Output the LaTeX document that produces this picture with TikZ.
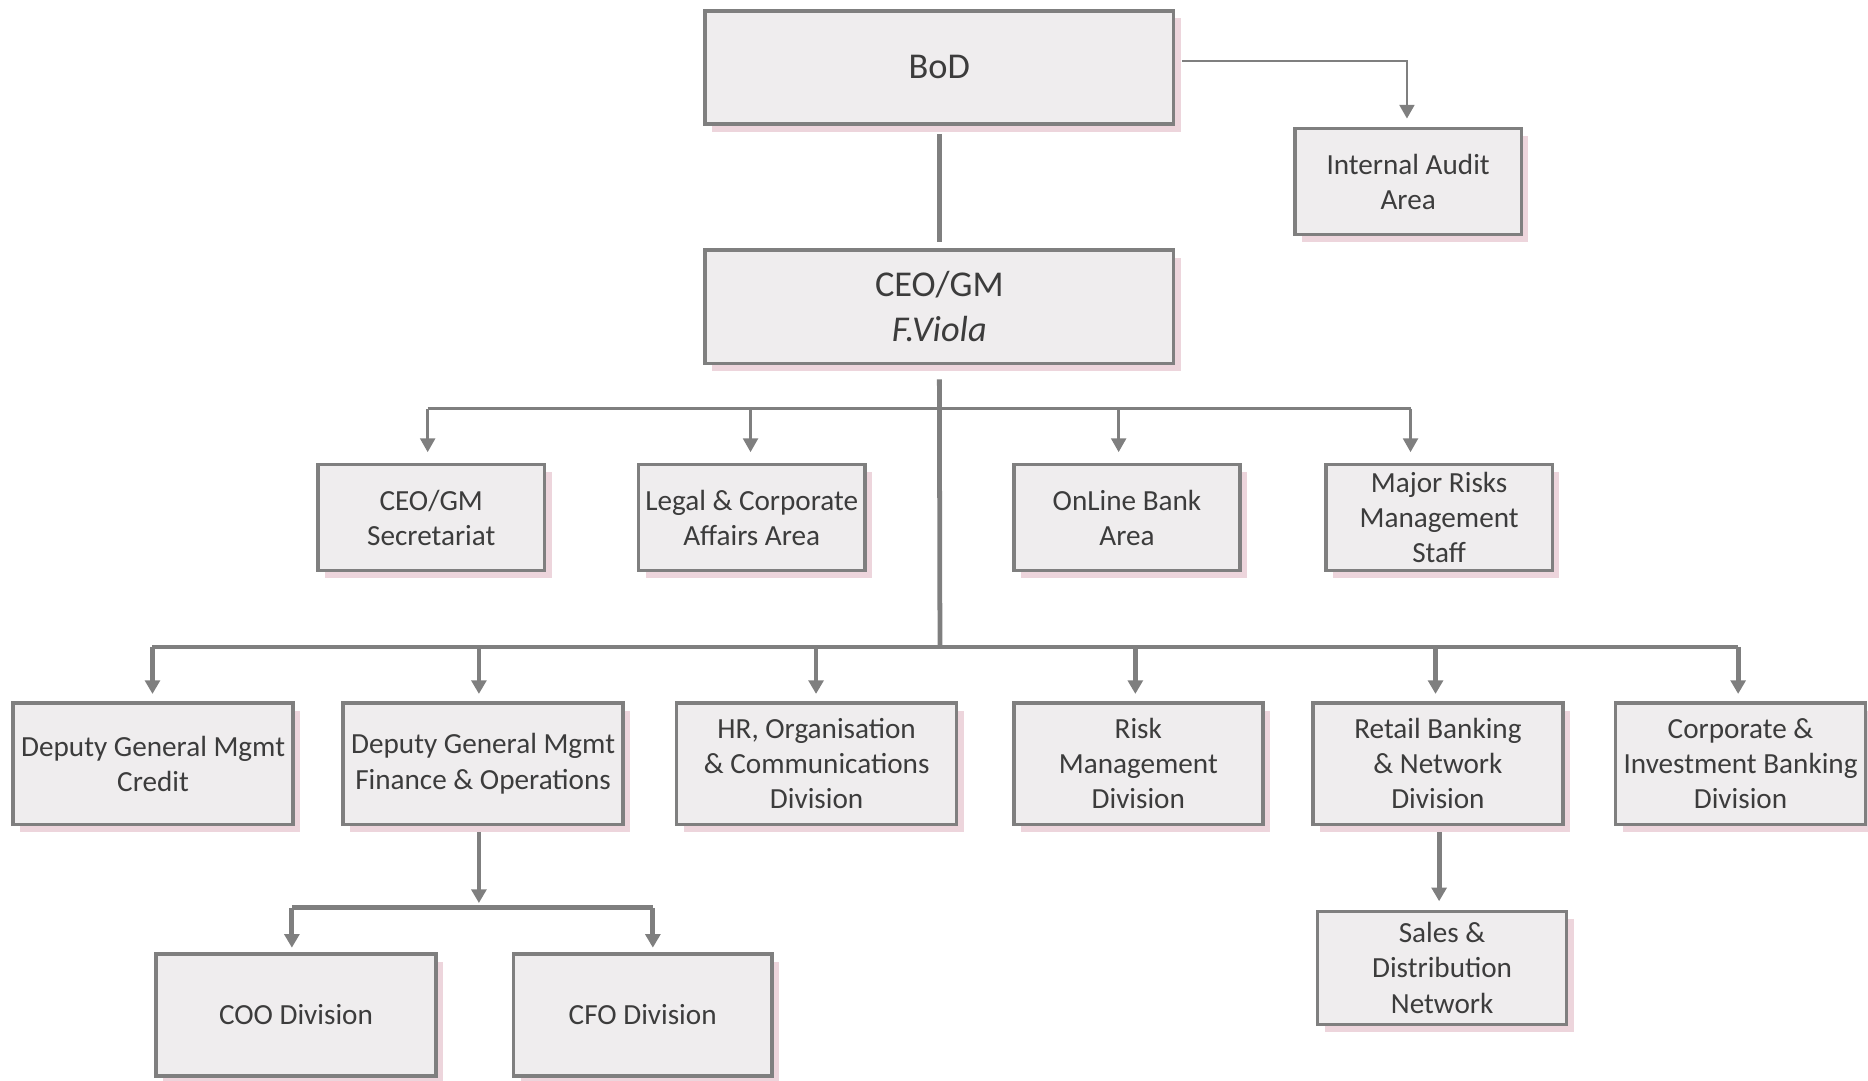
\documentclass[tikz,border=0pt]{standalone}
\usepackage{fontspec}
\setmainfont{Carlito}
\usetikzlibrary{arrows.meta,shadows}
\definecolor{boxfill}{HTML}{EFEDEE}
\definecolor{boxline}{HTML}{7F7F7F}
\definecolor{shad}{HTML}{EDD5DC}
\definecolor{txt}{HTML}{3C3C3C}
\tikzset{
  orgbox/.style={draw=boxline,fill=boxfill,line width=1.2pt,inner sep=0pt,align=center,text=txt,
    font=\fontsize{9.8}{11.8}\selectfont,
    drop shadow={shadow xshift=2.4pt,shadow yshift=-2.6pt,fill=shad,opacity=1}},
  bigbox/.style={orgbox,font=\fontsize{12.2}{15.2}\selectfont},
  thinln/.style={draw=boxline,line width=0.8pt},
  thickln/.style={draw=boxline,line width=1.6pt},
  tip/.style={-{Triangle[width=5pt,length=4.6pt]}},
}
\newcommand\bx[7]{%
  \pgfmathsetmacro\cx{(#3+#5)/2}\pgfmathsetmacro\cy{(#4+#6)/2}%
  \pgfmathsetmacro\ww{(#5-#3)*0.4}\pgfmathsetmacro\hh{(#6-#4)*0.4}%
  \node[#1,minimum width=\ww pt,minimum height=\hh pt] (#2) at (\cx,\cy) {#7};}
\begin{document}
\begin{tikzpicture}[x=0.4pt,y=-0.4pt]
\useasboundingbox (0,0) rectangle (1568,907);
% boxes
\bx{bigbox}{bod}{592}{9}{985}{104}{BoD}
\bx{orgbox}{ia}{1087}{108}{1277}{197}{Internal Audit\\Area}
\bx{bigbox}{ceo}{592}{210}{985}{305}{CEO/GM\\\textit{F.Viola}}
\bx{orgbox}{sec}{267}{390}{457}{479}{CEO/GM\\Secretariat}
\bx{orgbox}{leg}{536}{390}{726}{479}{Legal \& Corporate\\Affairs Area}
\bx{orgbox}{onl}{851}{390}{1041}{479}{OnLine Bank\\Area}
\bx{orgbox}{mrm}{1113}{390}{1303}{479}{Major Risks\\Management\\Staff}
\bx{orgbox}{dgc}{11}{590}{246}{692}{Deputy General Mgmt\\Credit}
\bx{orgbox}{dgf}{288}{590}{523}{692}{Deputy General Mgmt\\Finance \& Operations}
\bx{orgbox}{hr}{568}{590}{803}{692}{HR, Organisation\\\& Communications\\Division}
\bx{orgbox}{risk}{851}{590}{1060}{692}{Risk\\Management\\Division}
\bx{orgbox}{ret}{1102}{590}{1312}{692}{Retail Banking\\\& Network\\Division}
\bx{orgbox}{cib}{1356}{590}{1566}{692}{Corporate \&\\Investment Banking\\Division}
\bx{orgbox}{coo}{131}{801}{366}{903}{COO Division}
\bx{orgbox}{cfo}{431}{801}{648}{903}{CFO Division}
\bx{orgbox}{sal}{1106}{765}{1315}{860}{Sales \&\\Distribution\\Network}
% coordinates
\coordinate (busA) at (789,343);
\coordinate (busB) at (789,543);
\coordinate (busC) at (402,762);
\coordinate (iaT) at (1181,51);
% BoD - CEO
\draw[thickln] ([yshift=-2.8pt]bod.south) -- ([yshift=2pt]ceo.north);
% BoD - Internal Audit
\draw[thinln,tip,shorten <=2.4pt,shorten >=2.8pt] (bod.east |- iaT) -- (iaT) -- (iaT |- ia.north);
% CEO trunk
\draw[thickln] ([yshift=-4.8pt]ceo.south) -- (busB);
% thin bus
\draw[thinln] (359,343) -- (1184,343);
\draw[thinln,tip,shorten >=3.6pt] (busA -| 359,0) -- (sec.north -| 359,0);
\draw[thinln,tip,shorten >=3.6pt] (busA -| 630,0) -- (leg.north -| 630,0);
\draw[thinln,tip,shorten >=3.6pt] (busA -| 939,0) -- (onl.north -| 939,0);
\draw[thinln,tip,shorten >=3.6pt] (busA -| 1184,0) -- (mrm.north -| 1184,0);
% thick bus
\draw[thickln] (128,543) -- (1459,543);
\draw[thickln,tip,shorten >=2.4pt] (busB -| 128,0) -- (dgc.north -| 128,0);
\draw[thickln,tip,shorten >=2.4pt] (busB -| 402,0) -- (dgf.north -| 402,0);
\draw[thickln,tip,shorten >=2.4pt] (busB -| 685,0) -- (hr.north -| 685,0);
\draw[thickln,tip,shorten >=2.4pt] (busB -| 953,0) -- (risk.north -| 953,0);
\draw[thickln,tip,shorten >=2.4pt] (busB -| 1205,0) -- (ret.north -| 1205,0);
\draw[thickln,tip,shorten >=2.4pt] (busB -| 1459,0) -- (cib.north -| 1459,0);
% Deputy Finance to COO/CFO
\draw[thickln,tip,shorten <=2pt,shorten >=1.6pt] (dgf.south -| 402,0) -- (busC);
\draw[thickln] (245,762) -- (548,762);
\draw[thickln,tip,shorten >=1.6pt] (busC -| 245,0) -- (coo.north -| 245,0);
\draw[thickln,tip,shorten >=1.6pt] (busC -| 548,0) -- (cfo.north -| 548,0);
% Retail to Sales
\draw[thickln,tip,shorten <=2pt,shorten >=2.8pt] (ret.south -| 1208,0) -- (sal.north -| 1208,0);
\end{tikzpicture}
\end{document}
